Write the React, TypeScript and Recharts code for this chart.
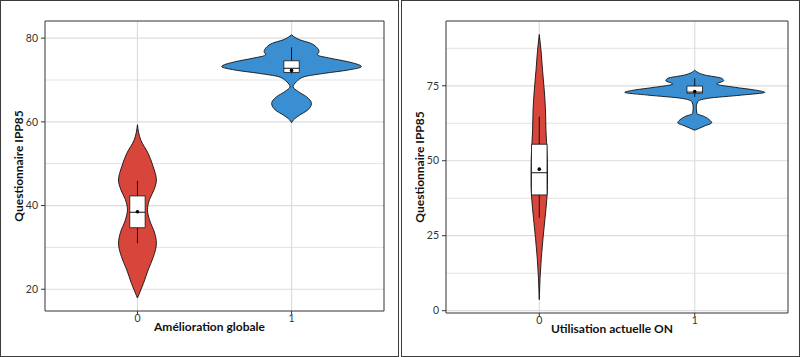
import {
  ComposedChart,
  Area,
  XAxis,
  YAxis,
  ReferenceLine,
  ReferenceArea,
  ReferenceDot,
} from "recharts";

const RED = "#D8453A";
const BLUE = "#3A8FD2";

// catégories (position sur l'axe x)
const groups = [0, 1];

// --- Panneau gauche : Amélioration globale
const leftYTicks = [20, 40, 60, 80];
const leftYMinor = [30, 50, 70];
const leftYDomain = [14.8, 84.1];

const leftY0 = [17.9, 18.6, 21.4, 24.6, 27.8, 31.0, 33.4, 36.6, 39.0, 41.4, 43.8, 46.1, 49.3, 52.5, 55.7, 59.3];
const leftW0 = [0, 0.008, 0.039, 0.069, 0.104, 0.123, 0.112, 0.078, 0.065, 0.078, 0.108, 0.123, 0.102, 0.069, 0.021, 0];
const leftY1 = [59.8, 60.5, 61.6, 62.8, 64.4, 66.0, 67.2, 68.4, 69.6, 70.8, 71.6, 72.4, 73.2, 74.4, 75.2, 76.0, 76.8, 77.6, 78.8, 79.6, 80.8];
const leftW1 = [0, 0.013, 0.052, 0.104, 0.129, 0.097, 0.045, 0.01, 0.032, 0.084, 0.214, 0.369, 0.453, 0.362, 0.252, 0.168, 0.178, 0.168, 0.123, 0.054, 0];

const leftLow = [31.0, 71.5];
const leftQ1 = [34.7, 71.8];
const leftMed = [38.4, 72.8];
const leftQ3 = [42.3, 74.6];
const leftHigh = [45.9, 77.8];
const leftMean = [38.5, 72.3];

// --- Panneau droit : Utilisation actuelle ON
const rightYTicks = [0, 25, 50, 75];
const rightYMinor = [12.5, 37.5, 62.5, 87.5];
const rightYDomain = [-0.77, 96.6];

const rightY0 = [3.7, 10.8, 17.5, 24.1, 30.8, 37.5, 42, 47, 52, 60.2, 66.9, 73.6, 80.2, 86.9, 92.1];
const rightW0 = [0, 0.005, 0.013, 0.024, 0.037, 0.049, 0.053, 0.053, 0.051, 0.043, 0.04, 0.032, 0.021, 0.011, 0];
const rightY1 = [60.2, 61.6, 62.7, 63.6, 64.7, 65.8, 68.0, 69.7, 70.8, 71.9, 72.8, 73.6, 74.5, 75.6, 76.7, 77.5, 78.6, 80.2];
const rightW1 = [0, 0.064, 0.109, 0.096, 0.064, 0.013, 0.01, 0.019, 0.083, 0.302, 0.45, 0.385, 0.257, 0.141, 0.186, 0.173, 0.064, 0];

const rightLow = [31.0, 71.3];
const rightQ1 = [38.6, 72.5];
const rightMed = [46.0, 72.9];
const rightQ3 = [55.5, 74.9];
const rightHigh = [64.7, 77.5];
const rightMean = [47.2, 73.1];

const BOX_HALF = 0.05;
const X_DOMAIN = [-0.6, 1.6];

function violinData(center: number, ys: number[], ws: number[]) {
  return ys.map((y, i) => ({ y, v: [center - ws[i], center + ws[i]] }));
}

type PanelProps = {
  xTitle: string;
  yTicks: number[];
  yMinor: number[];
  yDomain: number[];
  violins: { ys: number[]; ws: number[]; color: string }[];
  low: number[];
  q1: number[];
  med: number[];
  q3: number[];
  high: number[];
  mean: number[];
  margin: { top: number; right: number; bottom: number; left: number };
};

function ViolinPanel(p: PanelProps) {
  const tickStyle = { fontSize: 10.5, fill: "#333", fontFamily: "Lato" };
  return (
    <ComposedChart
      width={397}
      height={355}
      layout="vertical"
      margin={p.margin}
      style={{ fontFamily: "Lato" }}
    >
      <XAxis
        type="number"
        domain={X_DOMAIN}
        ticks={groups}
        allowDataOverflow
        axisLine={false}
        tickSize={3}
        tickMargin={1}
        tickLine={{ stroke: "#333" }}
        tick={tickStyle}
        height={30}
        label={{
          content: (lp: any) => {
            const vb = lp.viewBox;
            return (
              <text
                x={vb.x + vb.width / 2 - 5}
                y={vb.y + 20}
                textAnchor="middle"
                fontWeight="bold"
                fontSize={12}
                fontFamily="Lato"
                fill="#111"
              >
                {p.xTitle}
              </text>
            );
          },
        }}
      />
      <YAxis
        type="number"
        dataKey="y"
        domain={p.yDomain}
        ticks={p.yTicks}
        reversed
        allowDataOverflow
        axisLine={false}
        tickSize={4}
        tickMargin={3}
        tickLine={{ stroke: "#333" }}
        tick={tickStyle}
        width={44}
        label={{
          content: (lp: any) => {
            const vb = lp.viewBox;
            const cx = vb.x + 22;
            const cy = vb.y + vb.height / 2;
            return (
              <text
                x={cx}
                y={cy}
                transform={`rotate(-90 ${cx} ${cy})`}
                textAnchor="middle"
                fontWeight="bold"
                fontSize={12}
                fontFamily="Lato"
                fill="#111"
              >
                Questionnaire IPP85
              </text>
            );
          },
        }}
      />
      {p.yMinor.map((v) => (
        <ReferenceLine key={`mn${v}`} y={v} stroke="#e2e2e2" strokeWidth={1} zIndex={-50} />
      ))}
      {p.yTicks.map((v) => (
        <ReferenceLine key={`mj${v}`} y={v} stroke="#dcdcdc" strokeWidth={1.2} zIndex={-50} />
      ))}
      {groups.map((g) => (
        <ReferenceLine key={`gx${g}`} x={g} stroke="#dcdcdc" strokeWidth={1.2} zIndex={-50} />
      ))}
      {p.violins.map((vi, i) => (
        <Area
          key={`vio${i}`}
          data={violinData(groups[i], vi.ys, vi.ws)}
          dataKey="v"
          type="monotone"
          fill={vi.color}
          fillOpacity={1}
          stroke="#111"
          strokeWidth={0.9}
          dot={false}
          activeDot={false}
          isAnimationActive={false}
          zIndex={100}
        />
      ))}
      {groups.map((g, i) => (
        <ReferenceLine
          key={`wu${g}`}
          segment={[
            { x: g, y: p.q3[i] },
            { x: g, y: p.high[i] },
          ]}
          stroke="#111"
          strokeWidth={1}
          zIndex={650}
        />
      ))}
      {groups.map((g, i) => (
        <ReferenceLine
          key={`wl${g}`}
          segment={[
            { x: g, y: p.low[i] },
            { x: g, y: p.q1[i] },
          ]}
          stroke="#111"
          strokeWidth={1}
          zIndex={650}
        />
      ))}
      {groups.map((g, i) => (
        <ReferenceArea
          key={`bx${g}`}
          x1={g - BOX_HALF}
          x2={g + BOX_HALF}
          y1={p.q1[i]}
          y2={p.q3[i]}
          fill="#fff"
          fillOpacity={1}
          stroke="#111"
          strokeWidth={0.8}
          zIndex={700}
        />
      ))}
      {groups.map((g, i) => (
        <ReferenceLine
          key={`md${g}`}
          segment={[
            { x: g - BOX_HALF, y: p.med[i] },
            { x: g + BOX_HALF, y: p.med[i] },
          ]}
          stroke="#111"
          strokeWidth={1}
          zIndex={800}
        />
      ))}
      {groups.map((g, i) => (
        <ReferenceDot
          key={`mean${g}`}
          x={g}
          y={p.mean[i]}
          r={1.8}
          fill="#000"
          stroke="none"
          zIndex={900}
        />
      ))}
      <ReferenceArea
        x1={X_DOMAIN[0]}
        x2={X_DOMAIN[1]}
        y1={p.yDomain[0]}
        y2={p.yDomain[1]}
        fill="none"
        stroke="#333"
        strokeWidth={1}
        zIndex={1000}
      />
    </ComposedChart>
  );
}

const frame: React.CSSProperties = {
  position: "absolute",
  top: 0,
  width: 399,
  height: 357,
  boxSizing: "border-box",
  border: "1px solid #3c3c3c",
  background: "#fff",
};

export default function App() {
  return (
    <div style={{ position: "absolute", left: 0, top: 0, width: 800, height: 357, background: "#fff" }}>
      <div style={{ ...frame, left: 0 }}>
        <ViolinPanel
          xTitle="Amélioration globale"
          yTicks={leftYTicks}
          yMinor={leftYMinor}
          yDomain={leftYDomain}
          violins={[
            { ys: leftY0, ws: leftW0, color: RED },
            { ys: leftY1, ws: leftW1, color: BLUE },
          ]}
          low={leftLow}
          q1={leftQ1}
          med={leftMed}
          q3={leftQ3}
          high={leftHigh}
          mean={leftMean}
          margin={{ top: 20, right: 14, bottom: 15, left: 0 }}
        />
      </div>
      <div style={{ ...frame, left: 401 }}>
        <ViolinPanel
          xTitle="Utilisation actuelle ON"
          yTicks={rightYTicks}
          yMinor={rightYMinor}
          yDomain={rightYDomain}
          violins={[
            { ys: rightY0, ws: rightW0, color: RED },
            { ys: rightY1, ws: rightW1, color: BLUE },
          ]}
          low={rightLow}
          q1={rightQ1}
          med={rightMed}
          q3={rightQ3}
          high={rightHigh}
          mean={rightMean}
          margin={{ top: 20, right: 11, bottom: 13, left: 0 }}
        />
      </div>
    </div>
  );
}
